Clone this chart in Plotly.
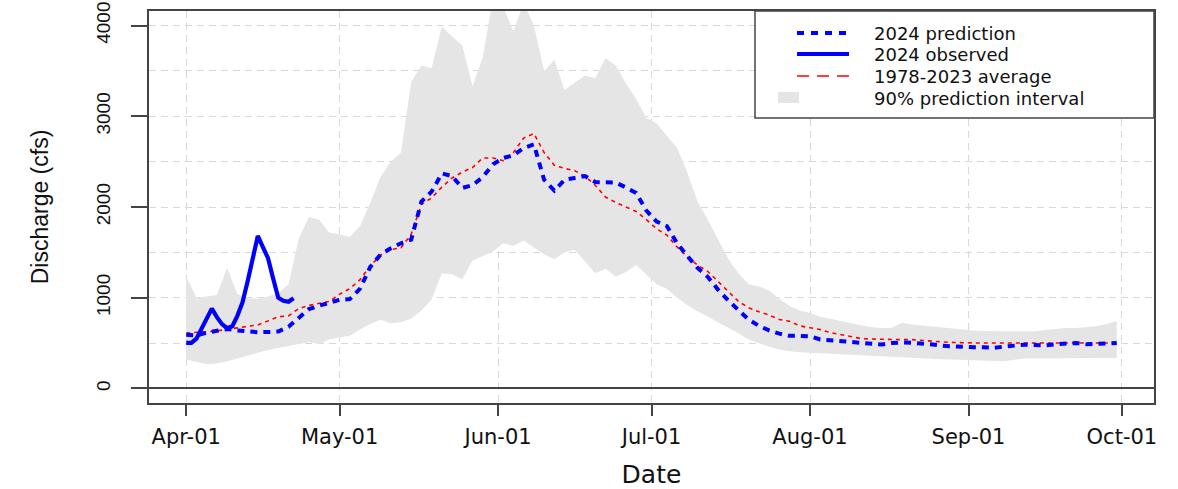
import pandas as pd
import plotly.graph_objects as go

# ---- data ----
start = "2024-04-01"
dates = pd.date_range(start, "2024-09-30", freq="2D")   # every 2 days

pred = [593, 585, 615, 640, 655, 640, 628, 620, 622, 628,
        680, 785, 875, 912, 950, 978, 985, 1100, 1340, 1475,
        1545, 1600, 1640, 2060, 2170, 2370, 2340, 2210, 2240, 2330,
        2470, 2540, 2570, 2650, 2690, 2300, 2180, 2300, 2320, 2340,
        2275, 2275, 2270, 2215, 2155, 1960, 1840, 1790, 1600, 1460,
        1330, 1230, 1090, 970, 865, 760, 690, 640, 605, 580,
        580, 575, 540, 530, 518, 510, 500, 490, 485, 500,
        508, 502, 495, 484, 470, 462, 454, 454, 454, 448,
        462, 473, 482, 478, 475, 488, 497, 502, 488, 492,
        502, 502]

avg = [612, 615, 625, 635, 655, 668, 685, 700, 745, 790,
       800, 880, 915, 935, 960, 1040, 1100, 1200, 1350, 1470,
       1530, 1550, 1700, 2030, 2100, 2220, 2320, 2385, 2435, 2540,
       2540, 2510, 2600, 2760, 2810, 2600, 2460, 2425, 2400, 2340,
       2240, 2110, 2050, 2000, 1950, 1860, 1760, 1690, 1560, 1450,
       1360, 1290, 1180, 1070, 960, 890, 845, 810, 760, 740,
       690, 670, 650, 615, 595, 575, 550, 545, 540, 538,
       538, 538, 528, 520, 512, 507, 502, 502, 502, 502,
       505, 508, 505, 502, 502, 502, 502, 502, 502, 502,
       502, 502]

upper = [1234, 1000, 1015, 1030, 1330, 1040, 995, 990, 1015, 1050,
         1150, 1650, 1890, 1860, 1715, 1700, 1670, 1790, 2050, 2330,
         2500, 2600, 3380, 3560, 3530, 3990, 3880, 3780, 3330, 3650,
         4300, 4200, 3940, 4250, 4000, 3500, 3620, 3290, 3370, 3450,
         3420, 3640, 3560, 3360, 3190, 2980, 2920, 2790, 2650, 2380,
         2060, 1860, 1640, 1430, 1270, 1150, 1124, 1080, 990, 910,
         860, 832, 790, 770, 745, 720, 700, 675, 667, 668,
         725, 705, 694, 685, 672, 665, 650, 640, 632, 630,
         630, 630, 630, 632, 645, 660, 667, 667, 672, 685,
         710, 740]

lower = [319, 290, 268, 275, 300, 330, 360, 395, 425, 447,
         470, 490, 510, 490, 540, 565, 580, 650, 710, 758,
         720, 730, 770, 860, 980, 1270, 1260, 1205, 1410, 1460,
         1510, 1600, 1570, 1630, 1560, 1480, 1425, 1500, 1525, 1400,
         1271, 1320, 1230, 1285, 1360, 1255, 1150, 1100, 1000, 920,
         850, 790, 730, 670, 610, 540, 500, 460, 430, 410,
         400, 395, 390, 381, 376, 370, 366, 360, 355, 350,
         345, 338, 332, 326, 322, 319, 319, 312, 308, 302,
         300, 318, 330, 337, 337, 337, 337, 337, 337, 337,
         337, 337]

obs_dates = pd.date_range(start, periods=22, freq="D")
observed = [502, 502, 549, 666, 782, 880, 786, 709, 664, 685,
            801, 948, 1179, 1425, 1681, 1558, 1436, 1213, 1000, 967,
            955, 995]

month_ticks = pd.date_range("2024-04-01", "2024-10-01", freq="MS")
month_labels = [d.strftime("%b-%d") for d in month_ticks]
y_ticks = [0, 1000, 2000, 3000, 4000]

names = ["2024 prediction", "2024 observed", "1978-2023 average",
         "90% prediction interval"]

# ---- styles ----
BLUE = "#0000ff"
RED = "#ff0000"
BAND = "#e5e5e5"
axis_col = "#444444"
grid_col = "#d9d9d9"
text_col = "#111111"

W, H = 1178, 489
M = dict(l=149, r=24, t=11, b=86)
PW = W - M["l"] - M["r"]
PH = H - M["t"] - M["b"]


def px_x(px):
    return (px - M["l"]) / PW


def px_y(py):
    return (H - M["b"] - py) / PH


# ---- figure ----
band_x = list(dates) + list(dates[::-1])
band_y = upper + lower[::-1]

fig = go.Figure()
fig.add_trace(go.Scatter(x=band_x, y=band_y, fill="toself", mode="lines",
                         line=dict(width=0, color=BAND),
                         fillcolor=BAND, name=names[3], hoverinfo="skip"))
fig.add_trace(go.Scatter(x=dates, y=avg, mode="lines", name=names[2],
                         line=dict(color=RED, width=1.6, dash="4px,4px")))
fig.add_trace(go.Scatter(x=dates, y=pred, mode="lines", name=names[0],
                         line=dict(color=BLUE, width=4, dash="7px,6px")))
fig.add_trace(go.Scatter(x=obs_dates, y=observed, mode="lines", name=names[1],
                         line=dict(color=BLUE, width=4.2)))

# ---- legend box (drawn in paper space, top-right like the original) ----
leg_rows = [33, 54, 76, 98]
shapes = [
    dict(type="rect", xref="paper", yref="paper", layer="above",
         x0=px_x(755), x1=1.0, y0=px_y(118), y1=1.0,
         fillcolor="white", line=dict(color=axis_col, width=1.5)),
    dict(type="line", xref="paper", yref="paper", layer="above",
         x0=px_x(797), x1=px_x(849), y0=px_y(leg_rows[0]), y1=px_y(leg_rows[0]),
         line=dict(color=BLUE, width=4, dash="7px,7px")),
    dict(type="line", xref="paper", yref="paper", layer="above",
         x0=px_x(797), x1=px_x(849), y0=px_y(leg_rows[1]), y1=px_y(leg_rows[1]),
         line=dict(color=BLUE, width=4)),
    dict(type="line", xref="paper", yref="paper", layer="above",
         x0=px_x(797), x1=px_x(849), y0=px_y(leg_rows[2]), y1=px_y(leg_rows[2]),
         line=dict(color=RED, width=1.6, dash="12px,8px")),
    dict(type="rect", xref="paper", yref="paper", layer="above",
         x0=px_x(778), x1=px_x(799), y0=px_y(103), y1=px_y(92),
         fillcolor=BAND, line=dict(width=0)),
]
annotations = [
    dict(text=n, xref="paper", yref="paper", x=px_x(872), y=px_y(r),
         xanchor="left", yanchor="middle", showarrow=False,
         font=dict(family="DejaVu Sans", size=18, color=text_col))
    for n, r in zip(names, leg_rows)
]

fig.update_layout(
    template="none",
    width=W, height=H,
    margin=M,
    paper_bgcolor="white", plot_bgcolor="white",
    font=dict(family="DejaVu Sans", color=text_col),
    showlegend=False,
    shapes=shapes,
    annotations=annotations,
    xaxis=dict(
        type="date",
        automargin=False,
        range=["2024-03-24 17:17", "2024-10-07 06:43"],
        tickvals=list(month_ticks), ticktext=month_labels,
        ticks="outside", ticklen=11, tickcolor=axis_col, tickwidth=1.5,
        tickfont=dict(family="DejaVu Sans", size=21, color=text_col),
        ticklabelstandoff=3,
        showline=True, mirror=True, linecolor=axis_col, linewidth=1.5,
        showgrid=True, gridcolor=grid_col, griddash="7px,5px", gridwidth=1,
        zeroline=False,
        title=dict(text="Date", font=dict(family="DejaVu Sans", size=25, color=text_col),
                   standoff=24),
    ),
    yaxis=dict(
        automargin=False,
        range=[-160, 4160],
        tickvals=y_ticks,
        tickangle=-90,
        ticks="outside", ticklen=16, tickcolor=axis_col, tickwidth=1.5,
        tickfont=dict(family="Liberation Sans", size=19, color=text_col),
        ticklabelstandoff=14,
        showline=True, mirror=True, linecolor=axis_col, linewidth=1.5,
        showgrid=True, gridcolor=grid_col, griddash="7px,5px", gridwidth=1,
        minor=dict(dtick=500, tick0=0, showgrid=True, gridcolor=grid_col,
                   griddash="7px,5px", gridwidth=1, ticks=""),
        zeroline=True, zerolinecolor=axis_col, zerolinewidth=1.5,
        title=dict(text="Discharge (cfs)",
                   font=dict(family="Liberation Sans", size=23, color=text_col),
                   standoff=38),
    ),
)

fig.write_html("out.html")
